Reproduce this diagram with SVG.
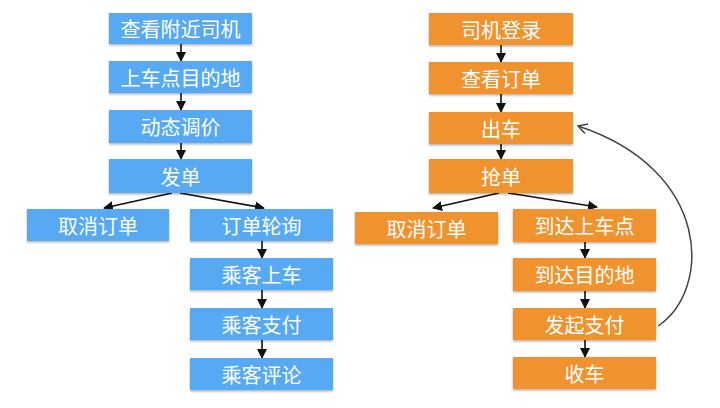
<svg xmlns="http://www.w3.org/2000/svg" width="720" height="408" viewBox="0 0 720 408">
<style>
.b{fill:#56a9f2}
.o{fill:#f0932f}
.n rect{filter:url(#sh)}
.n text{fill:#fff;font-family:"Noto Sans CJK SC","Noto Sans",sans-serif;font-size:20px;text-anchor:middle;dominant-baseline:central}
.c line{stroke:#111;stroke-width:1.6;marker-end:url(#ah)}
.cv{fill:none;stroke:#444;stroke-width:1.5;marker-end:url(#oh)}
</style>
<defs>
<filter id="sh" x="-5%" y="-10%" width="110%" height="130%">
<feDropShadow dx="0" dy="1.5" stdDeviation="1" flood-color="#000" flood-opacity="0.3"/>
</filter>
<marker id="ah" markerWidth="10" markerHeight="10" refX="9" refY="5" orient="auto" markerUnits="userSpaceOnUse">
<path d="M0,0 L10,5 L0,10 z" fill="#111"/>
</marker>
<marker id="oh" markerWidth="12" markerHeight="12" refX="10" refY="6" orient="auto" markerUnits="userSpaceOnUse">
<path d="M1,1 L10,6 L1,11" fill="none" stroke="#444" stroke-width="1.5"/>
</marker>
</defs>
<g id="connectors" class="c">
<line x1="181" y1="44" x2="181" y2="61"/>
<line x1="181" y1="93" x2="181" y2="110"/>
<line x1="181" y1="143" x2="181" y2="159"/>
<line x1="172" y1="193" x2="104" y2="208"/>
<line x1="180" y1="193" x2="264" y2="208"/>
<line x1="262" y1="241" x2="262" y2="258"/>
<line x1="262" y1="290" x2="262" y2="308"/>
<line x1="262" y1="340" x2="262" y2="358"/>
<line x1="501" y1="45" x2="501" y2="62"/>
<line x1="501" y1="94" x2="501" y2="112"/>
<line x1="501" y1="144" x2="501" y2="159"/>
<line x1="499" y1="193" x2="433" y2="208"/>
<line x1="508" y1="193" x2="597" y2="207"/>
<line x1="585" y1="242" x2="585" y2="258"/>
<line x1="585" y1="291" x2="585" y2="308"/>
<line x1="585" y1="340" x2="585" y2="357"/>
<path class="cv" d="M658,326 C712,290 712,170 578,126"/>
</g>
<g id="p1" class="n"><rect class="b" x="109" y="13" width="143" height="31"/><text x="180.5" y="28.5">查看附近司机</text></g>
<g id="p2" class="n"><rect class="b" x="109" y="61" width="143" height="32"/><text x="180.5" y="77">上车点目的地</text></g>
<g id="p3" class="n"><rect class="b" x="109" y="110" width="143" height="33"/><text x="180.5" y="126.5">动态调价</text></g>
<g id="p4" class="n"><rect class="b" x="109" y="159" width="143" height="34"/><text x="180.5" y="176">发单</text></g>
<g id="p5" class="n"><rect class="b" x="27" y="209" width="142" height="32"/><text x="98" y="225">取消订单</text></g>
<g id="p6" class="n"><rect class="b" x="190" y="209" width="143" height="32"/><text x="261.5" y="225">订单轮询</text></g>
<g id="p7" class="n"><rect class="b" x="190" y="258" width="143" height="32"/><text x="261.5" y="274">乘客上车</text></g>
<g id="p8" class="n"><rect class="b" x="190" y="308" width="143" height="32"/><text x="261.5" y="324">乘客支付</text></g>
<g id="p9" class="n"><rect class="b" x="190" y="358" width="143" height="32"/><text x="261.5" y="374">乘客评论</text></g>
<g id="d1" class="n"><rect class="o" x="429" y="13" width="144" height="32"/><text x="501" y="29">司机登录</text></g>
<g id="d2" class="n"><rect class="o" x="429" y="62" width="144" height="32"/><text x="501" y="78">查看订单</text></g>
<g id="d3" class="n"><rect class="o" x="429" y="112" width="144" height="32"/><text x="501" y="128">出车</text></g>
<g id="d4" class="n"><rect class="o" x="429" y="159" width="144" height="34"/><text x="501" y="176">抢单</text></g>
<g id="d5" class="n"><rect class="o" x="355" y="212" width="143" height="32"/><text x="426.5" y="228">取消订单</text></g>
<g id="d6" class="n"><rect class="o" x="513" y="209" width="143" height="33"/><text x="584.5" y="225.5">到达上车点</text></g>
<g id="d7" class="n"><rect class="o" x="513" y="258" width="143" height="33"/><text x="584.5" y="274.5">到达目的地</text></g>
<g id="d8" class="n"><rect class="o" x="513" y="308" width="143" height="32"/><text x="584.5" y="324">发起支付</text></g>
<g id="d9" class="n"><rect class="o" x="513" y="357" width="143" height="32"/><text x="584.5" y="373">收车</text></g>
</svg>
